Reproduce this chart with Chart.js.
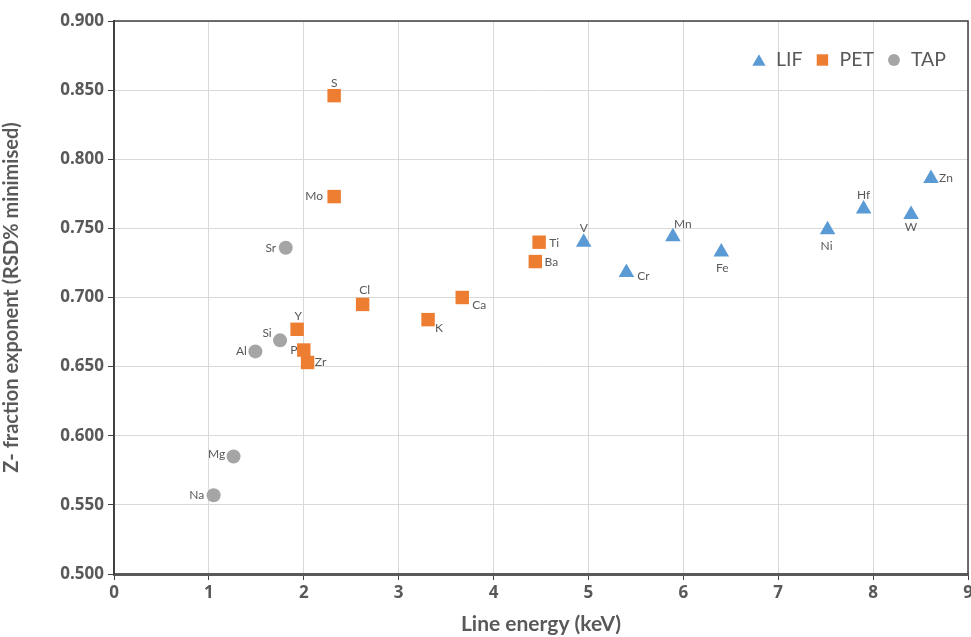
<!DOCTYPE html>
<html>
<head>
<meta charset="utf-8">
<script src="https://cdn.jsdelivr.net/npm/chart.js@4.4.1/dist/chart.umd.min.js"></script>
<style>
  html, body { margin: 0; padding: 0; background: #fff; }
  #wrap { width: 971px; height: 637px; }
</style>
</head>
<body>
<div id="wrap"><canvas id="chart" width="971" height="637"></canvas></div>
<script>
// LIF crystal lines
const lifLabels = ['V', 'Cr', 'Mn', 'Fe', 'Ni', 'Hf', 'W', 'Zn']
const lifEnergy = [4.95, 5.40, 5.89, 6.40, 7.52, 7.90, 8.40, 8.61]
const lifExponent = [0.740, 0.718, 0.744, 0.733, 0.749, 0.764, 0.760, 0.786]

// PET crystal lines
const petLabels = ['S', 'Mo', 'Cl', 'Y', 'P', 'Zr', 'K', 'Ca', 'Ti', 'Ba']
const petEnergy = [2.32, 2.32, 2.62, 1.93, 2.00, 2.04, 3.31, 3.67, 4.48, 4.44]
const petExponent = [0.846, 0.773, 0.695, 0.677, 0.662, 0.653, 0.684, 0.700, 0.740, 0.726]

// TAP crystal lines
const tapLabels = ['Sr', 'Si', 'Al', 'Mg', 'Na']
const tapEnergy = [1.81, 1.75, 1.49, 1.26, 1.05]
const tapExponent = [0.736, 0.669, 0.661, 0.585, 0.557]

const xTicks = [0, 1, 2, 3, 4, 5, 6, 7, 8, 9]
const yTicks = [0.5, 0.55, 0.6, 0.65, 0.7, 0.75, 0.8, 0.85, 0.9]

// centre of each element name relative to its marker (dx, dy in px)
const labelOffset = {
    S: [0, -13], Mo: [-20, 0], Cl: [2, -14], Y: [1, -13], P: [-10, 0], Zr: [13, 0],
    K: [11, 9], Ca: [17, 8], Ti: [15, 1], Ba: [16, 1],
    V: [0, -14], Cr: [17, 4], Mn: [10, -13], Fe: [1, 16], Ni: [-1, 16], Hf: [0, -14], W: [0, 13], Zn: [15, 0],
    Sr: [-15, 0], Si: [-13, -7], Al: [-14, 0], Mg: [-17, -2], Na: [-17, 0]
}

const labelFont = 'Lato, "Open Sans", sans-serif'

function toPoints(xs, ys) {
    return xs.map((x, i) => ({ x: x, y: ys[i] }))
}

const pointLabels = {
    id: 'pointLabels',
    afterDatasetsDraw(chart) {
        const ctx = chart.ctx
        ctx.save()
        ctx.font = '12px ' + labelFont
        ctx.fillStyle = '#595959'
        ctx.textAlign = 'center'
        ctx.textBaseline = 'middle'
        chart.data.datasets.forEach((ds, di) => {
            const meta = chart.getDatasetMeta(di)
            ds.names.forEach((name, i) => {
                const el = meta.data[i]
                const off = labelOffset[name] || [0, -12]
                ctx.fillText(name, el.x + off[0], el.y + off[1])
            })
        })
        ctx.restore()
    }
}

// legend inside the top right corner of the plot
const insideLegend = {
    id: 'insideLegend',
    afterDraw(chart) {
        const a = chart.chartArea
        const ctx = chart.ctx
        const sets = chart.data.datasets
        ctx.save()
        ctx.font = '19.5px ' + labelFont
        ctx.textBaseline = 'middle'
        ctx.textAlign = 'left'
        const toText = 17, toNext = 20
        let total = 0
        sets.forEach((ds, i) => {
            total += toText + ctx.measureText(ds.label).width + (i < sets.length - 1 ? toNext : 0)
        })
        let x = a.right - 22 - total
        const y = a.top + 39
        sets.forEach((ds) => {
            ctx.fillStyle = ds.backgroundColor
            Chart.helpers.drawPoint(ctx, {
                pointStyle: ds.pointStyle,
                radius: ds.pointRadius * 0.85,
                borderWidth: 0
            }, x, y + (ds.pointStyle === 'triangle' ? 2 : 0))
            ctx.fillStyle = '#595959'
            ctx.fillText(ds.label, x + toText, y)
            x += toText + ctx.measureText(ds.label).width + toNext
        })
        ctx.restore()
    }
}

// dark frame round the plot area
const frame = {
    id: 'frame',
    afterDraw(chart) {
        const a = chart.chartArea
        const ctx = chart.ctx
        ctx.save()
        ctx.strokeStyle = '#404040'
        ctx.lineWidth = 1.5
        ctx.beginPath()
        ctx.moveTo(a.left, a.top)
        ctx.lineTo(a.right, a.top)
        ctx.lineTo(a.right, a.bottom)
        ctx.stroke()
        ctx.restore()
    }
}

new Chart(document.getElementById('chart'), {
    type: 'scatter',
    data: {
        datasets: [
            {
                label: 'LIF',
                names: lifLabels,
                data: toPoints(lifEnergy, lifExponent),
                pointStyle: 'triangle',
                pointRadius: 9,
                backgroundColor: '#5b9bd5',
                borderColor: '#5b9bd5',
                borderWidth: 0
            },
            {
                label: 'PET',
                names: petLabels,
                data: toPoints(petEnergy, petExponent),
                pointStyle: 'rect',
                pointRadius: 9.5,
                backgroundColor: '#ed7d31',
                borderColor: '#ed7d31',
                borderWidth: 0
            },
            {
                label: 'TAP',
                names: tapLabels,
                data: toPoints(tapEnergy, tapExponent),
                pointStyle: 'circle',
                pointRadius: 7,
                backgroundColor: '#a5a5a5',
                borderColor: '#a5a5a5',
                borderWidth: 0
            }
        ]
    },
    options: {
        responsive: false,
        animation: false,
        layout: {
            autoPadding: false,
            padding: { left: 0, right: 3, top: 21, bottom: 0 }
        },
        plugins: {
            tooltip: { enabled: false },
            legend: { display: false }
        },
        scales: {
            x: {
                type: 'linear',
                min: 0,
                max: 9,
                afterFit: (s) => {
                    s.height = 63
                    s.paddingLeft = 0
                    s.paddingRight = 0
                },
                afterBuildTicks: (s) => { s.ticks = xTicks.map(v => ({ value: v })) },
                border: { display: true, color: '#595959', width: 3 },
                grid: { color: '#d9d9d9', lineWidth: 1, tickLength: 6, tickColor: '#404040' },
                ticks: {
                    color: '#595959',
                    padding: 3,
                    font: { family: '"Open Sans", sans-serif', size: 17, weight: 'bold' }
                },
                title: {
                    display: true,
                    text: 'Line energy (keV)',
                    color: '#595959',
                    padding: { top: 5, bottom: 0 },
                    font: { family: labelFont, size: 21, weight: 'bold' }
                }
            },
            y: {
                type: 'linear',
                min: 0.5,
                max: 0.9,
                afterFit: (s) => {
                    s.width = 114
                    s.paddingTop = 0
                    s.paddingBottom = 0
                },
                afterBuildTicks: (s) => { s.ticks = yTicks.map(v => ({ value: v })) },
                border: { display: true, color: '#404040', width: 2 },
                grid: { color: '#d9d9d9', lineWidth: 1, tickLength: 6, tickColor: '#404040' },
                ticks: {
                    color: '#595959',
                    padding: 4,
                    font: { family: '"Open Sans", sans-serif', size: 17, weight: 'bold' },
                    callback: (v) => v.toFixed(3)
                },
                title: {
                    display: true,
                    text: 'Z- fraction exponent (RSD% minimised)',
                    color: '#595959',
                    padding: { top: 0, bottom: 4 },
                    font: { family: labelFont, size: 20, weight: 'bold' }
                }
            }
        }
    },
    plugins: [pointLabels, insideLegend, frame]
})
</script>
</body>
</html>
